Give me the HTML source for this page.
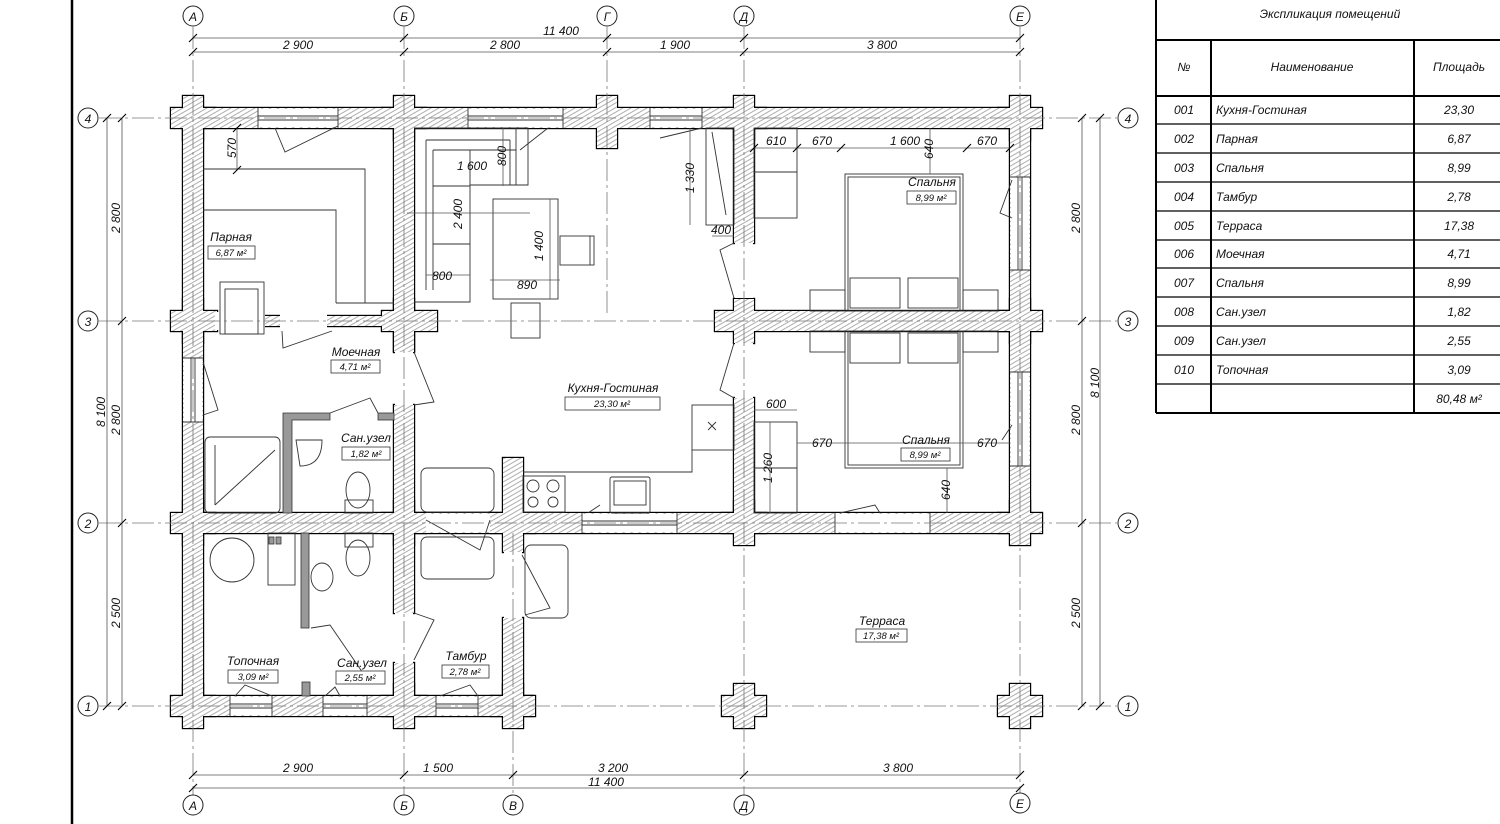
<!DOCTYPE html>
<html><head><meta charset="utf-8"><style>
html,body{margin:0;padding:0;background:#fff;width:1500px;height:824px;overflow:hidden}
svg{display:block}
text{font-family:"Liberation Sans",sans-serif;font-style:italic;fill:#111}
</style></head><body>
<svg width="1500" height="824" viewBox="0 0 1500 824" xmlns="http://www.w3.org/2000/svg">
<defs>
<pattern id="h" patternUnits="userSpaceOnUse" width="4" height="4" patternTransform="rotate(-30)">
<rect width="4" height="4" fill="#fff"/><line x1="0" y1="1" x2="4" y2="1" stroke="#999" stroke-width="0.8"/>
</pattern>
<g id="W">
<rect x="183" y="108" width="847" height="20"/>
<rect x="183" y="108" width="20" height="608"/>
<rect x="1010" y="108" width="20" height="425"/>
<rect x="183" y="513" width="847" height="20"/>
<rect x="183" y="696" width="350" height="20"/>
<rect x="171" y="311" width="46" height="20"/>
<rect x="265" y="316" width="15" height="10"/>
<rect x="327" y="316" width="60" height="10"/>
<rect x="715" y="311" width="315" height="20"/>
<rect x="394" y="108" width="20" height="244"/>
<rect x="394" y="405" width="20" height="208"/>
<rect x="394" y="663" width="20" height="53"/>
<rect x="734" y="108" width="20" height="135"/>
<rect x="734" y="398" width="20" height="135"/>
<rect x="503" y="458" width="20" height="94"/>
<rect x="503" y="618" width="20" height="98"/>
<rect x="183" y="96" width="20" height="44"/><rect x="171" y="108" width="44" height="20"/>
<rect x="394" y="96" width="20" height="44"/><rect x="382" y="108" width="44" height="20"/>
<rect x="597" y="96" width="20" height="52"/>
<rect x="734" y="96" width="20" height="44"/><rect x="722" y="108" width="44" height="20"/>
<rect x="1010" y="96" width="20" height="44"/><rect x="998" y="108" width="44" height="20"/>
<rect x="183" y="299" width="20" height="44"/>
<rect x="394" y="299" width="20" height="52"/><rect x="382" y="311" width="55" height="20"/>
<rect x="734" y="299" width="20" height="44"/>
<rect x="1010" y="299" width="20" height="44"/><rect x="998" y="311" width="44" height="20"/>
<rect x="183" y="501" width="20" height="44"/><rect x="171" y="513" width="44" height="20"/>
<rect x="394" y="501" width="20" height="44"/><rect x="382" y="513" width="44" height="20"/>
<rect x="491" y="513" width="44" height="20"/>
<rect x="734" y="501" width="20" height="44"/><rect x="722" y="513" width="44" height="20"/>
<rect x="1010" y="501" width="20" height="44"/><rect x="998" y="513" width="44" height="20"/>
<rect x="183" y="684" width="20" height="44"/><rect x="171" y="696" width="44" height="20"/>
<rect x="394" y="684" width="20" height="44"/><rect x="382" y="696" width="44" height="20"/>
<rect x="503" y="684" width="20" height="44"/><rect x="491" y="696" width="44" height="20"/>
<rect x="734" y="684" width="20" height="44"/><rect x="722" y="696" width="44" height="20"/>
<rect x="1010" y="684" width="20" height="44"/><rect x="998" y="696" width="44" height="20"/>
</g>
</defs>
<rect width="1500" height="824" fill="#fff"/>
<line x1="72" y1="0" x2="72" y2="824" stroke="#000" stroke-width="2.5"/>

<use href="#W" fill="none" stroke="#000" stroke-width="2.4"/>
<use href="#W" fill="url(#h)" stroke="none"/>

<g fill="#fff" stroke="none">
<rect x="258" y="109" width="80" height="18"/><rect x="468" y="109" width="95" height="18"/><rect x="650" y="109" width="52" height="18"/>
<rect x="1011" y="177" width="18" height="93"/><rect x="1011" y="372" width="18" height="94"/>
<rect x="184" y="358" width="18" height="64"/>
<rect x="230" y="697" width="42" height="18"/><rect x="323" y="697" width="44" height="18"/><rect x="436" y="697" width="42" height="18"/>
<rect x="582" y="514" width="95" height="18"/><rect x="835" y="514" width="95" height="18"/><rect x="426" y="514" width="64" height="18"/>
<rect x="215" y="312" width="50" height="18"/><rect x="280" y="312" width="47" height="18"/>
<rect x="395" y="352" width="18" height="53"/><rect x="395" y="613" width="18" height="50"/>
<rect x="735" y="243" width="18" height="55"/><rect x="735" y="343" width="18" height="55"/>
<rect x="504" y="552" width="18" height="66"/>
</g>
<g fill="none" stroke="#333" stroke-width="0.9">
<path d="M258 108V128M338 108V128M258 116H338M258 120H338"/>
<path d="M468 108V128M563 108V128M468 116H563M468 120H563"/>
<path d="M650 108V128M702 108V128M650 116H702M650 120H702"/>
<path d="M1010 177H1030M1010 270H1030M1018 177V270M1022 177V270"/>
<path d="M1010 372H1030M1010 466H1030M1018 372V466M1022 372V466"/>
<path d="M183 358H203M183 422H203M191 358V422M195 358V422"/>
<path d="M230 696V716M272 696V716M230 704H272M230 708H272"/>
<path d="M323 696V716M367 696V716M323 704H367M323 708H367"/>
<path d="M436 696V716M478 696V716M436 704H478M436 708H478"/>
<path d="M582 513V533M677 513V533M582 521H677M582 525H677"/>
<path d="M835 513V533M930 513V533"/>
<path d="M275 128L285 152L338 126"/>
<path d="M548 128L520 150M702 128L660 138"/>
<path d="M1012 180L1000 213L1012 218M1012 425L1002 440"/>
<path d="M203 362L218 410L203 415"/>
<path d="M282 331L283 348L332 331"/>
<path d="M414 352L434 402L414 405"/>
<path d="M734 298L720 250L734 243M734 343L720 390L734 398"/>
<path d="M330 413L370 398L378 413"/>
<path d="M426 520L480 550L490 520"/>
<path d="M522 555L550 608L525 615"/>
<path d="M311 628L330 625L365 676"/>
<path d="M414 613L434 620L414 660"/>
<path d="M440 696L470 685L478 696M235 696L245 685L272 696M325 696L335 687L340 696"/>
<path d="M840 513L875 505L880 513"/>
<path d="M588 513L600 505"/>
<path d="M203 169H365V303M203 210H336V303M336 303H394"/>
<rect x="220" y="282" width="44" height="52" fill="#fff"/><rect x="225" y="289" width="33" height="45"/>
<path d="M414 128H528V185H470V302H414"/>
<path d="M426 140H510M426 140V290M433 150V290M433 150H516M433 186H470M433 244H470M470 150V185"/>
<path d="M516 128V185M510 140V185"/>
<rect x="493" y="199" width="65" height="100"/>
<rect x="560" y="236" width="34" height="29"/><path d="M590 236V265"/>
<rect x="511" y="303" width="29" height="35"/>
<rect x="706" y="128" width="28" height="97"/><path d="M712 132L726 215"/>
<path d="M523 472H692V450"/><rect x="692" y="405" width="42" height="45"/>
<path d="M708 422L716 430M716 422L708 430"/>
<rect x="523" y="476" width="42" height="36"/>
<circle cx="533" cy="486" r="6"/><circle cx="553" cy="486" r="6"/><circle cx="533" cy="502" r="5"/><circle cx="553" cy="502" r="5"/>
<rect x="610" y="477" width="40" height="36" rx="2"/><rect x="614" y="481" width="32" height="24"/>
<rect x="845" y="174" width="118" height="137"/><rect x="848" y="177" width="112" height="134"/>
<rect x="850" y="278" width="50" height="30"/><rect x="908" y="278" width="50" height="30"/>
<rect x="810" y="290" width="35" height="21"/><rect x="963" y="290" width="35" height="21"/>
<rect x="754" y="128" width="43" height="90"/><path d="M754 172H797"/>
<rect x="845" y="331" width="118" height="137"/><rect x="848" y="331" width="112" height="134"/>
<rect x="850" y="333" width="50" height="30"/><rect x="908" y="333" width="50" height="30"/>
<rect x="810" y="331" width="35" height="21"/><rect x="963" y="331" width="35" height="21"/>
<rect x="754" y="422" width="43" height="91"/><path d="M754 468H797"/>
<rect x="205" y="437" width="75" height="76" rx="5"/><path d="M215 505L275 450M215 445V505"/>
<path d="M296 440H322Q322 466 300 466Z"/>
<ellipse cx="358" cy="490" rx="12" ry="18"/><rect x="345" y="500" width="28" height="13"/>
<ellipse cx="358" cy="558" rx="12" ry="18"/><rect x="345" y="533" width="28" height="14"/>
<ellipse cx="322" cy="577" rx="11" ry="14"/>
<circle cx="232" cy="560" r="22"/><rect x="268" y="533" width="27" height="52"/>
<rect x="421" y="468" width="73" height="44" rx="6"/><rect x="421" y="537" width="73" height="42" rx="6"/>
<rect x="525" y="545" width="43" height="73" rx="6"/>
</g>
<g fill="#999" stroke="#333" stroke-width="0.8">
<path d="M283 413H330V420H292V513H283Z"/><rect x="378" y="413" width="16" height="7"/>
<rect x="301" y="533" width="8" height="95"/><rect x="302" y="682" width="8" height="14"/>
<rect x="269" y="537" width="5" height="7"/><rect x="276" y="537" width="5" height="7"/>
</g>

<g stroke="#777" stroke-width="0.8" stroke-dasharray="22 4 3 4" fill="none">
<path d="M193 27V795M404 27V795M607 27V315M744 27V795M1020 27V795M513 533V795"/>
<path d="M99 118H1117M99 321H1117M99 523H1117M99 706H1117"/>
</g>
<g fill="#fff" stroke="#222" stroke-width="1">
<circle cx="193" cy="16" r="10"/><circle cx="404" cy="16" r="10"/><circle cx="607" cy="16" r="10"/><circle cx="744" cy="16" r="10"/><circle cx="1020" cy="16" r="10"/>
<circle cx="193" cy="805" r="10"/><circle cx="404" cy="805" r="10"/><circle cx="513" cy="805" r="10"/><circle cx="744" cy="805" r="10"/><circle cx="1020" cy="803" r="10"/>
<circle cx="88" cy="118" r="10"/><circle cx="88" cy="321" r="10"/><circle cx="88" cy="523" r="10"/><circle cx="88" cy="706" r="10"/>
<circle cx="1128" cy="118" r="10"/><circle cx="1128" cy="321" r="10"/><circle cx="1128" cy="523" r="10"/><circle cx="1128" cy="706" r="10"/>
</g>
<g font-size="12" text-anchor="middle">
<text x="193" y="21">А</text><text x="404" y="21">Б</text><text x="607" y="21">Г</text><text x="744" y="21">Д</text><text x="1020" y="21">Е</text>
<text x="193" y="810">А</text><text x="404" y="810">Б</text><text x="513" y="810">В</text><text x="744" y="810">Д</text><text x="1020" y="808">Е</text>
<text x="88" y="123">4</text><text x="88" y="326">3</text><text x="88" y="528">2</text><text x="88" y="711">1</text>
<text x="1128" y="123">4</text><text x="1128" y="326">3</text><text x="1128" y="528">2</text><text x="1128" y="711">1</text>
</g>

<g stroke="#555" stroke-width="0.8" fill="none">
<path d="M193 38H1020M193 52H1020M193 775H1020M193 788H1020"/>
<path d="M107 118V706M122 118V706M1082 118V706M1100 118V706"/>
<path d="M237 128V170M407 213H530M503 128V186M426 275H470M490 280H560M550 199V299M690 128V225M712 236H734M754 148H1010M930 128V174M754 410H797M797 443H1010M770 422V513M947 468V513"/>
</g>
<g stroke="#000" stroke-width="1.1">
<path d="M189 42L197 34M400 42L408 34M603 42L611 34M740 42L748 34M1016 42L1024 34"/>
<path d="M189 56L197 48M400 56L408 48M603 56L611 48M740 56L748 48M1016 56L1024 48"/>
<path d="M189 779L197 771M400 779L408 771M509 779L517 771M740 779L748 771M1016 779L1024 771"/>
<path d="M189 792L197 784M1016 792L1024 784"/>
<path d="M103 122L111 114M103 710L111 702M118 122L126 114M118 325L126 317M118 527L126 519M118 710L126 702"/>
<path d="M1078 122L1086 114M1078 325L1086 317M1078 527L1086 519M1078 710L1086 702M1096 122L1104 114M1096 710L1104 702"/>
<path d="M233 132L241 124M233 174L241 166M750 152L758 144M793 152L801 144M837 152L845 144M963 152L971 144M1006 152L1014 144"/>
</g>
<g font-size="12" text-anchor="middle">
<text x="561" y="35">11 400</text>
<text x="298" y="49">2 900</text><text x="505" y="49">2 800</text><text x="675" y="49">1 900</text><text x="882" y="49">3 800</text>
<text x="298" y="772">2 900</text><text x="438" y="772">1 500</text><text x="613" y="772">3 200</text><text x="898" y="772">3 800</text>
<text x="606" y="786">11 400</text>
<text transform="translate(120,218) rotate(-90)">2 800</text>
<text transform="translate(105,412) rotate(-90)">8 100</text>
<text transform="translate(120,420) rotate(-90)">2 800</text>
<text transform="translate(120,613) rotate(-90)">2 500</text>
<text transform="translate(1080,218) rotate(-90)">2 800</text>
<text transform="translate(1099,383) rotate(-90)">8 100</text>
<text transform="translate(1080,420) rotate(-90)">2 800</text>
<text transform="translate(1080,613) rotate(-90)">2 500</text>
<text transform="translate(236,148) rotate(-90)">570</text>
<text x="472" y="170">1 600</text>
<text transform="translate(506,156) rotate(-90)">800</text>
<text transform="translate(462,214) rotate(-90)">2 400</text>
<text x="442" y="280">800</text>
<text transform="translate(543,246) rotate(-90)">1 400</text>
<text x="527" y="289">890</text>
<text transform="translate(694,178) rotate(-90)">1 330</text>
<text x="721" y="234">400</text>
<text x="776" y="145">610</text><text x="822" y="145">670</text><text x="905" y="145">1 600</text><text x="987" y="145">670</text>
<text transform="translate(933,149) rotate(-90)">640</text>
<text x="776" y="408">600</text><text x="822" y="447">670</text><text x="987" y="447">670</text>
<text transform="translate(772,468) rotate(-90)">1 260</text>
<text transform="translate(950,490) rotate(-90)">640</text>
</g>

<g font-size="12" text-anchor="middle">
<text x="231" y="241">Парная</text><text x="356" y="356">Моечная</text><text x="613" y="392">Кухня-Гостиная</text>
<text x="366" y="442">Сан.узел</text><text x="932" y="186">Спальня</text><text x="926" y="444">Спальня</text>
<text x="882" y="625">Терраса</text><text x="253" y="665">Топочная</text><text x="362" y="667">Сан.узел</text><text x="466" y="660">Тамбур</text>
</g>
<g fill="#fff" stroke="#333" stroke-width="0.8">
<rect x="208" y="246" width="47" height="13"/><rect x="331" y="360" width="49" height="13"/><rect x="565" y="397" width="95" height="13"/>
<rect x="342" y="447" width="48" height="13"/><rect x="907" y="191" width="49" height="13"/><rect x="901" y="448" width="49" height="13"/>
<rect x="856" y="629" width="51" height="13"/><rect x="228" y="670" width="50" height="13"/><rect x="336" y="671" width="49" height="13"/><rect x="442" y="665" width="47" height="13"/>
</g>
<g font-size="9.5" text-anchor="middle">
<text x="231" y="256">6,87 м²</text><text x="355" y="370">4,71 м²</text><text x="612" y="407">23,30 м²</text>
<text x="366" y="457">1,82 м²</text><text x="931" y="201">8,99 м²</text><text x="925" y="458">8,99 м²</text>
<text x="881" y="639">17,38 м²</text><text x="253" y="680">3,09 м²</text><text x="360" y="681">2,55 м²</text><text x="465" y="675">2,78 м²</text>
</g>

<g stroke="#000" stroke-width="2" fill="none">
<path d="M1156 0V413M1156 40H1500M1156 96H1500M1156 413H1500M1211 40V413M1414 40V413"/>
<path d="M1156 124H1500M1156 153H1500M1156 182H1500M1156 211H1500M1156 240H1500M1156 268H1500M1156 297H1500M1156 326H1500M1156 355H1500M1156 384H1500" stroke-width="1.3"/>
</g>
<g font-size="12">
<text x="1330" y="18" text-anchor="middle">Экспликация помещений</text>
<text x="1184" y="71" text-anchor="middle">№</text><text x="1312" y="71" text-anchor="middle">Наименование</text><text x="1459" y="71" text-anchor="middle">Площадь</text>
<g text-anchor="middle">
<text x="1184" y="114">001</text><text x="1184" y="143">002</text><text x="1184" y="172">003</text><text x="1184" y="201">004</text><text x="1184" y="230">005</text>
<text x="1184" y="258">006</text><text x="1184" y="287">007</text><text x="1184" y="316">008</text><text x="1184" y="345">009</text><text x="1184" y="374">010</text>
<text x="1459" y="114">23,30</text><text x="1459" y="143">6,87</text><text x="1459" y="172">8,99</text><text x="1459" y="201">2,78</text><text x="1459" y="230">17,38</text>
<text x="1459" y="258">4,71</text><text x="1459" y="287">8,99</text><text x="1459" y="316">1,82</text><text x="1459" y="345">2,55</text><text x="1459" y="374">3,09</text>
<text x="1459" y="403">80,48 м²</text>
</g>
<text x="1216" y="114">Кухня-Гостиная</text><text x="1216" y="143">Парная</text><text x="1216" y="172">Спальня</text><text x="1216" y="201">Тамбур</text><text x="1216" y="230">Терраса</text>
<text x="1216" y="258">Моечная</text><text x="1216" y="287">Спальня</text><text x="1216" y="316">Сан.узел</text><text x="1216" y="345">Сан.узел</text><text x="1216" y="374">Топочная</text>
</g>
</svg>
</body></html>
